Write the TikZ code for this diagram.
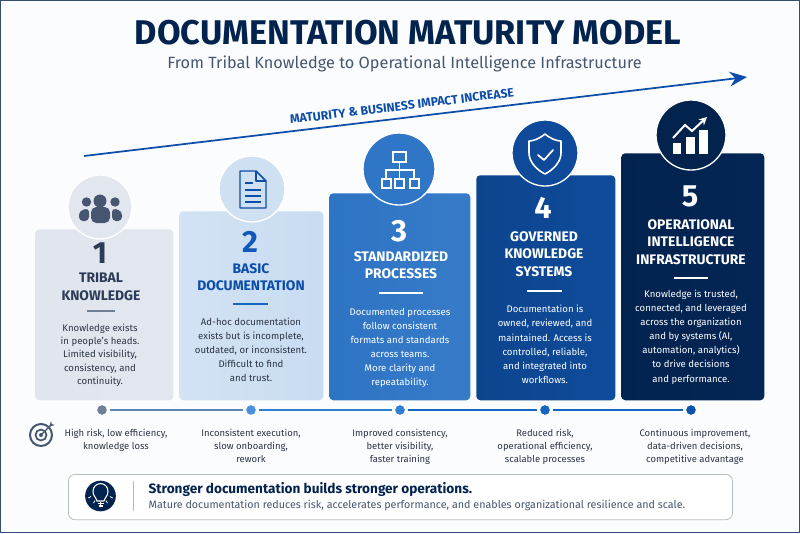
\documentclass[tikz,border=0pt]{standalone}
\usepackage{fontspec}
\setmainfont{Fira Sans}
\usepackage{tikz}
\usetikzlibrary{positioning,arrows.meta,calc}
\definecolor{navy}{HTML}{03234F}
\definecolor{slate}{HTML}{465670}
\definecolor{inkslate}{HTML}{2C3C58}
\definecolor{pale}{HTML}{E2E6EE}
\definecolor{lightblue}{HTML}{CFE0F3}
\definecolor{midblue}{HTML}{2F76C6}
\definecolor{deepblue}{HTML}{0E4A99}
\definecolor{arrowblue}{HTML}{0B4DA8}
\definecolor{vividblue}{HTML}{1258B8}
\definecolor{dotone}{HTML}{6F7F95}
\definecolor{dottwo}{HTML}{4A90DC}
\definecolor{dotthree}{HTML}{2F7FD3}
\definecolor{dotfour}{HTML}{1466C0}
\definecolor{dotfive}{HTML}{0B55B0}
\definecolor{bodytext}{HTML}{2B3445}
\tikzset{
  card/.style = {shape = rectangle, rounded corners = 3pt, anchor = north west, inner sep = 0pt},
  badge/.style = {shape = circle, inner sep = 0pt, draw = white, line width = 1pt},
  num/.style = {font = \fontsize{23}{23}\selectfont\bfseries},
  head/.style = {font = \fontsize{10.4}{13.2}\selectfont\bfseries, align = center},
  desc/.style = {font = \fontsize{7.2}{10.6}\selectfont, align = center},
  result/.style = {font = \fontsize{7.1}{10}\selectfont, align = center, text = bodytext},
  dot/.style = {shape = circle, minimum size = 8.5pt, inner sep = 0pt, draw = white, line width = 1pt},
  rule/.style = {line width = 0.8pt},
  link/.style = {line width = 1.4pt, shorten >= 1pt, shorten <= 1pt},
  glyph/.style = {line width = 1.1pt, line join = round}
}
\begin{document}
\begin{tikzpicture}[x = 0.75pt, y = -0.75pt]
\useasboundingbox (0,0) rectangle (800,533);
\fill[white!92!lightblue] (0,0) rectangle (800,533);
\draw[navy!80, line width = 1pt] (0.5,0.5) rectangle (799.5,532.5);

% title block
\node[text = navy, font = \fontsize{25.7}{26}\selectfont\bfseries] (title) at (408,33) {DOCUMENTATION MATURITY MODEL};
\node[text = slate, font = \fontsize{12.2}{13}\selectfont] (subtitle) at (404.5,64) {From Tribal Knowledge to Operational Intelligence Infrastructure};

% rising arrow
\coordinate (risestart) at (84,156);
\coordinate (riseend) at (747,77);
\draw[arrowblue, line width = 1.3pt, -{Stealth[length = 13pt, width = 11pt]}] (risestart) -- (riseend);
\node[text = arrowblue, rotate = 7, font = \fontsize{9.2}{10}\selectfont\bfseries] (riselabel) at (402,106) {MATURITY \& BUSINESS IMPACT INCREASE};

% cards
\node[card, left color = pale!95!lightblue, right color = pale, minimum width = 103.5pt, minimum height = 128.25pt] (card1) at (35,229) {};
\node[card, left color = lightblue!92!white, right color = lightblue!96!midblue, minimum width = 108pt, minimum height = 141.75pt] (card2) at (179,211) {};
\node[card, left color = midblue!95!deepblue, right color = midblue!96!white, minimum width = 105.75pt, minimum height = 155.25pt] (card3) at (329,193) {};
\node[card, left color = deepblue!85!navy, right color = deepblue!96!midblue, minimum width = 104.25pt, minimum height = 168.75pt] (card4) at (476,175) {};
\node[card, left color = navy, right color = navy!92!deepblue, minimum width = 107.25pt, minimum height = 185.25pt] (card5) at (621,153) {};

% badges
\node[badge, fill = pale, minimum size = 48pt] (badge1) at (100,207) {};
\node[badge, fill = lightblue, minimum size = 49.5pt] (badge2) at (252,189) {};
\node[badge, fill = midblue, minimum size = 54pt] (badge3) at (399,169) {};
\node[badge, fill = deepblue, minimum size = 49.5pt] (badge4) at (545,153) {};
\node[badge, fill = navy, minimum size = 52.5pt] (badge5) at (691,135) {};

% people
\fill[slate] (100,201) circle (6.5);
\fill[slate] (86.5,202) circle (4.7);
\fill[slate] (115,202) circle (4.7);
\fill[slate, rounded corners = 3pt] (79,221) -- (79,211) -- (89,208) -- (89,221) -- cycle;
\fill[slate, rounded corners = 3pt] (122,221) -- (122,211) -- (112,208) -- (112,221) -- cycle;
\fill[slate, rounded corners = 4pt] (91,223) -- (91,207) -- (110,207) -- (110,223) -- cycle;

% page
\draw[glyph, arrowblue] (240,171) -- (256,171) -- (266,181) -- (266,208) -- (240,208) -- cycle;
\draw[glyph, arrowblue] (256,171) -- (256,181) -- (266,181);
\foreach \yy/\xx in {183/253,190/261,196/261,202/261}
  \draw[glyph, arrowblue] (245,\yy) -- (\xx,\yy);

% tree
\begin{scope}[white, line width = 1pt]
\draw (393,152) rectangle (406,162);
\draw (399.5,162) -- (399.5,170);
\draw (386,179) -- (386,170) -- (414,170) -- (414,179);
\draw (399.5,170) -- (399.5,179);
\draw (382,179) rectangle (391,188);
\draw (395,179) rectangle (404,188);
\draw (410,179) rectangle (419,188);
\end{scope}

% shield
\draw[white, line width = 1.2pt, line join = round] (545,134) .. controls (551,139) and (557,141) .. (561,141) -- (561,153) .. controls (561,162) and (553,170) .. (545,174) .. controls (537,170) and (529,162) .. (529,153) -- (529,141) .. controls (533,141) and (539,139) .. (545,134) -- cycle;
\draw[white, line width = 1.3pt, line cap = round, line join = round] (538,155) -- (544,160) -- (553,150);

% chart
\fill[white] (673,143) rectangle (681,154);
\fill[white] (686,137) rectangle (695,154);
\fill[white] (699,130) rectangle (708,154);
\draw[white, line width = 1.5pt, -{Stealth[length = 6pt, width = 6pt]}] (673,138) -- (685,125) -- (692,131) -- (707,117);

% step texts
\node[num, text = inkslate] (num1) at (100,253) {1};
\node[num, text = vividblue] (num2) at (250,242) {2};
\node[num, text = white] (num3) at (399,231) {3};
\node[num, text = white] (num4) at (543,208) {4};
\node[num, text = white] (num5) at (690,196) {5};

\node[head, text = inkslate] (head1) at (101,287) {TRIBAL\\KNOWLEDGE};
\node[head, text = arrowblue] (head2) at (251,277) {BASIC\\DOCUMENTATION};
\node[head, text = white] (head3) at (401,265) {STANDARDIZED\\PROCESSES};
\node[head, text = white] (head4) at (544,254) {GOVERNED\\KNOWLEDGE\\SYSTEMS};
\node[head, text = white] (head5) at (691,242) {OPERATIONAL\\INTELLIGENCE\\INFRASTRUCTURE};

\draw[rule, dotone] (87,311) -- (115,311);
\draw[rule, dotfour] (233,304) -- (268,304);
\draw[rule, white] (379,293) -- (423,293);
\draw[rule, white] (527,291) -- (562,291);
\draw[rule, white] (674,278) -- (708,278);

\node[desc, text = bodytext, font = \fontsize{7.2}{10}\selectfont] (desc1) at (100,355) {Knowledge exists\\in people's heads.\\Limited visibility,\\consistency, and\\continuity.};
\node[desc, text = bodytext] (desc2) at (251,350) {Ad-hoc documentation\\exists but is incomplete,\\outdated, or inconsistent.\\Difficult to find\\and trust.};
\node[desc, text = white] (desc3) at (400,348) {Documented processes\\follow consistent\\formats and standards\\across teams.\\More clarity and\\repeatability.};
\node[desc, text = white] (desc4) at (545,344.5) {Documentation is\\owned, reviewed, and\\maintained. Access is\\controlled, reliable,\\and integrated into\\workflows.};
\node[desc, text = white] (desc5) at (691,337) {Knowledge is trusted,\\connected, and leveraged\\across the organization\\and by systems (AI,\\automation, analytics)\\to drive decisions\\and performance.};

% timeline
\node[dot, fill = dotone] (dot1) at (102,410) {};
\node[dot, fill = dottwo] (dot2) at (251,410) {};
\node[dot, fill = dotthree] (dot3) at (400,410) {};
\node[dot, fill = dotfour] (dot4) at (545,410) {};
\node[dot, fill = dotfive] (dot5) at (691,410) {};
\draw[link, dotone!50!dottwo] (dot1) -- (dot2);
\draw[link, dotthree] (dot2) -- (dot3);
\draw[link, dotfour] (dot3) -- (dot4);
\draw[link, dotfour] (dot4) -- (dot5);

% target
\draw[slate, line width = 1.5pt] (41,435) circle (11);
\draw[slate, line width = 1.3pt] (41,435) circle (5.5);
\fill[slate] (41,435) circle (2);
\draw[slate, line width = 1pt, -{Stealth[length = 4pt, width = 4pt, reversed]}] (41,435) -- (53,423);

\node[result, anchor = north] (res1) at (116,424) {High risk, low efficiency,\\knowledge loss};
\node[result, anchor = north] (res2) at (251,424) {Inconsistent execution,\\slow onboarding,\\rework};
\node[result, anchor = north] (res3) at (400,424) {Improved consistency,\\better visibility,\\faster training};
\node[result, anchor = north] (res4) at (545,424) {Reduced risk,\\operational efficiency,\\scalable processes};
\node[result, anchor = north] (res5) at (695,424) {Continuous improvement,\\data-driven decisions,\\competitive advantage};

% bottom note
\node[card, fill = white, draw = slate!40, rounded corners = 5pt, line width = 0.6pt, minimum width = 498pt, minimum height = 34pt] (note) at (68,474) {};
\node[shape = circle, fill = navy, minimum size = 23pt, inner sep = 0pt] (bulb) at (100.5,496) {};
\draw[white, line width = 0.8pt] (97,501) .. controls (96,497) and (93,496) .. (93,491.5) .. controls (93,481) and (108,481) .. (108,491.5) .. controls (108,496) and (105,497) .. (104,501) -- cycle;
\draw[white, line width = 0.9pt] (97.5,503.5) -- (103.5,503.5);
\draw[white, line width = 0.9pt] (98.5,506) -- (102.5,506);
\foreach \aa in {30,60,90,120,150}
  \draw[white, line width = 0.6pt] ($(100.5,491)+(\aa:11)$) -- ($(100.5,491)+(\aa:14)$);
\coordinate (sepa) at (133.5,481);
\coordinate (sepb) at (133.5,511);
\draw[slate!40, line width = 0.6pt] (sepa) -- (sepb);
\node[anchor = west, text = navy, font = \fontsize{10.2}{11}\selectfont\bfseries] (notehead) at (144,489) {Stronger documentation builds stronger operations.};
\node[anchor = west, text = slate, font = \fontsize{8.05}{9}\selectfont] (notetext) at (144,505) {Mature documentation reduces risk, accelerates performance, and enables organizational resilience and scale.};
\end{tikzpicture}
\end{document}
